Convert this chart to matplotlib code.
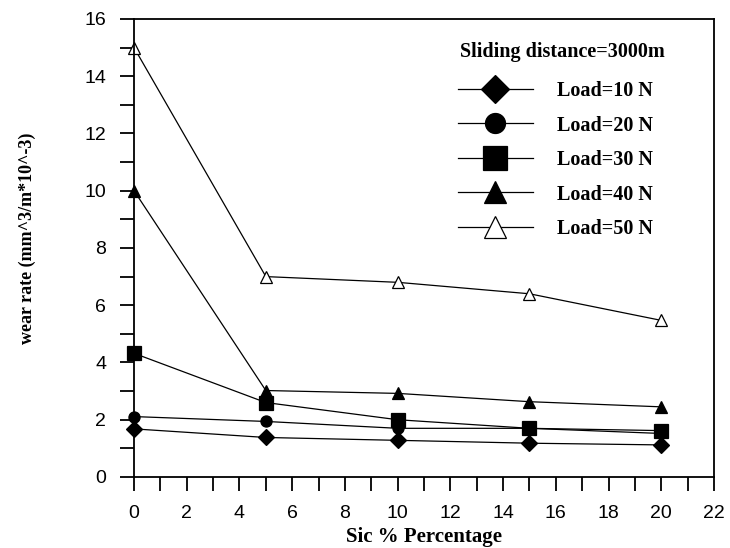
import matplotlib
matplotlib.use("Agg")
from matplotlib import pyplot as plt
from matplotlib.ticker import MultipleLocator

# SiC percentage and wear rate for each load
sic = [0, 5, 10, 15, 20]
load_10 = [1.68, 1.38, 1.28, 1.18, 1.12]
load_20 = [2.11, 1.94, 1.70, 1.70, 1.52]
load_30 = [4.32, 2.60, 2.00, 1.70, 1.62]
load_40 = [10.0, 3.02, 2.92, 2.63, 2.45]
load_50 = [15.0, 7.0, 6.8, 6.4, 5.47]
labels = ['Load=10 N', 'Load=20 N', 'Load=30 N', 'Load=40 N', 'Load=50 N']

serif = 'Liberation Serif'
sans = 'Liberation Sans'

fig = plt.figure(figsize=(7.3, 5.48), dpi=100)
ax = fig.add_axes([0.1836, 0.1296, 0.7945, 0.8358])

styles = [('D', 'black', 8), ('o', 'black', 8), ('s', 'black', 9.5), ('^', 'black', 8.5), ('^', 'white', 8.5)]
for ys, lab, (m, fc, ms) in zip([load_10, load_20, load_30, load_40, load_50], labels, styles):
    ax.plot(sic, ys, color='black', lw=0.9, marker=m, markersize=ms,
            markerfacecolor=fc, markeredgecolor='black', markeredgewidth=0.9,
            label=lab, clip_on=False)

ax.set_xlim(0, 22)
ax.set_ylim(0, 16)
ax.xaxis.set_major_locator(MultipleLocator(2))
ax.xaxis.set_minor_locator(MultipleLocator(1))
ax.yaxis.set_major_locator(MultipleLocator(2))
ax.yaxis.set_minor_locator(MultipleLocator(1))
ax.tick_params(which='both', direction='out', length=10, width=1.3, top=False, right=False)
ax.tick_params(axis='x', labelsize=14, pad=10)
ax.tick_params(axis='y', labelsize=14, pad=10)
for t in ax.get_xticklabels() + ax.get_yticklabels():
    t.set_fontfamily(sans)
for sp in ax.spines.values():
    sp.set_linewidth(1.3)

ax.set_xlabel('Sic % Percentage', fontfamily=serif, fontweight='bold', fontsize=15)
ax.set_ylabel('wear rate (mm^3/m*10^-3)', fontfamily=serif, fontweight='bold', fontsize=13)
ax.xaxis.set_label_coords(0.5, -0.131)
ax.yaxis.set_label_coords(-0.1845, 0.522)
ax.xaxis.label.set_va('center')
ax.yaxis.label.set_va('center')

# legend title drawn as its own text so the gap to the entries can match
fig.text(460 / 730, 1 - 52 / 548, 'Sliding distance=3000m', ha='left', va='center',
         fontfamily=serif, fontweight='bold', fontsize=14.5)
leg = fig.legend(*ax.get_legend_handles_labels(), loc='upper left',
                 bbox_to_anchor=(452 / 730, 1 - 75 / 548), frameon=False, markerscale=1.8,
                 prop={'family': serif, 'weight': 'bold', 'size': 14.5},
                 handlelength=3.7, handletextpad=1.2, labelspacing=0.72,
                 borderpad=0.3, borderaxespad=0)

fig.savefig('out.png', dpi=100)
